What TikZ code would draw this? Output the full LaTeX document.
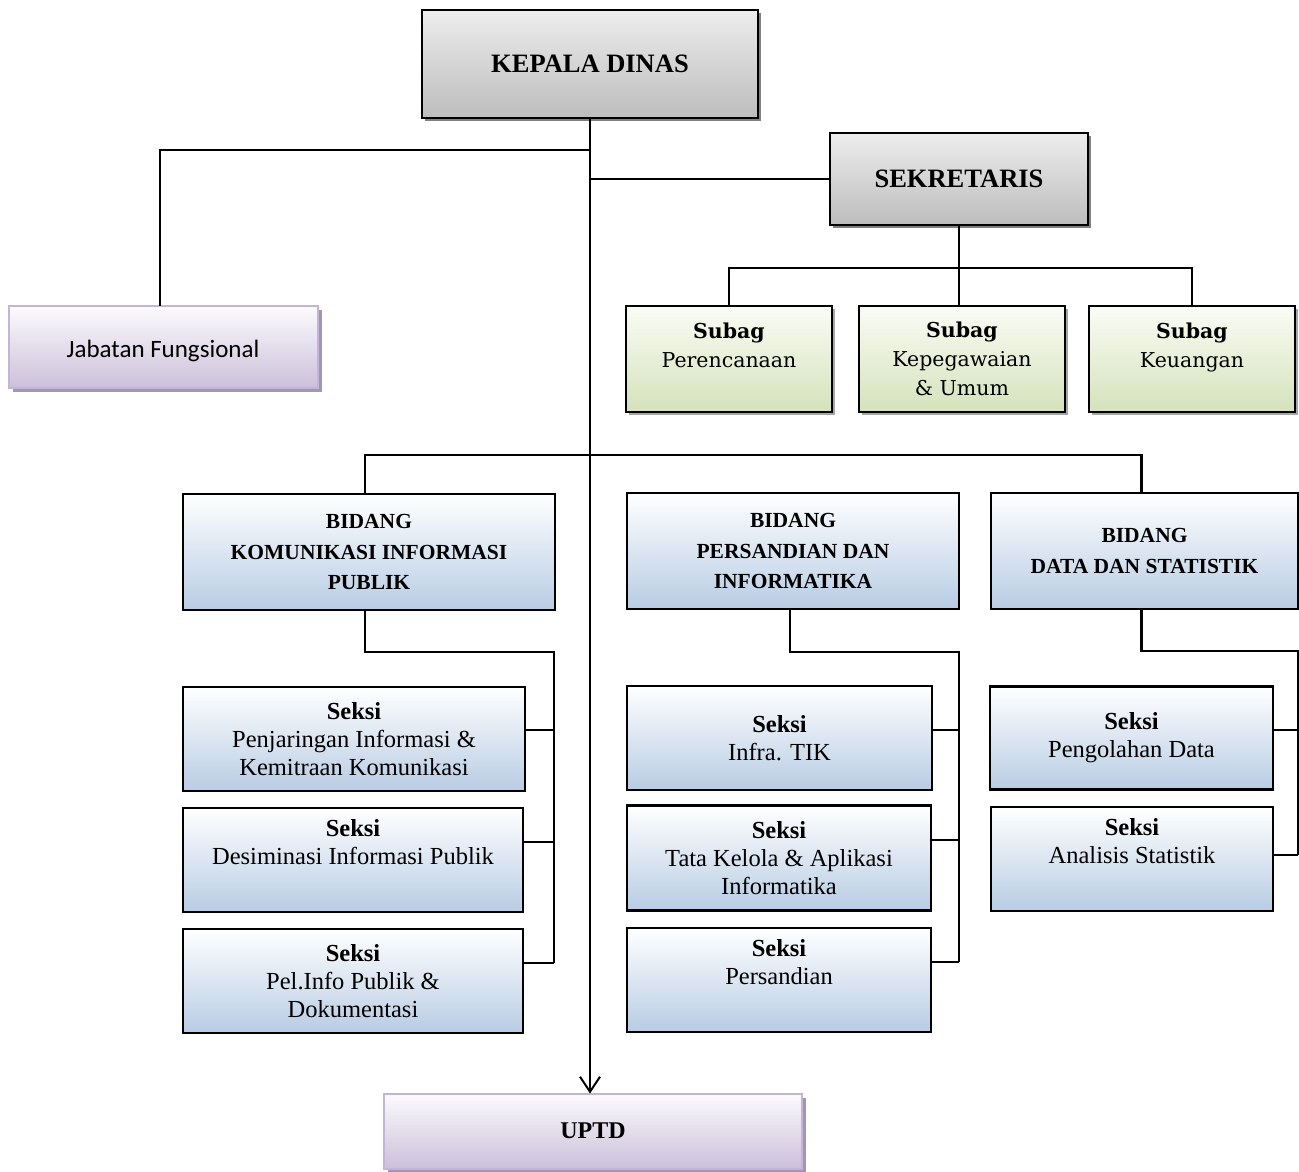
\documentclass[tikz,border=0pt]{standalone}
\usepackage{fontspec}
\setmainfont{Liberation Serif}
\newfontfamily\subagfont{DejaVu Serif}
\newfontfamily\jffont{Carlito}
\usepackage{xcolor}
\usepackage{tikz}
\usetikzlibrary{calc}
\usetikzlibrary{shadows}
\usetikzlibrary{arrows.meta}
\definecolor{graytop}{HTML}{EDEDED}
\definecolor{graybot}{HTML}{BDBDBD}
\definecolor{greentop}{HTML}{FAFCF5}
\definecolor{greenbot}{HTML}{D5E2BB}
\definecolor{bluetop}{HTML}{FFFFFF}
\definecolor{bluebot}{HTML}{B8CCE4}
\definecolor{purptop}{HTML}{FCFBFD}
\definecolor{purpbot}{HTML}{CBC0DA}
\definecolor{purpline}{HTML}{C4B5D8}
\definecolor{purpshadow}{HTML}{A395B5}
\tikzstyle{basebox} = [rectangle, align=center, inner sep=0pt, outer sep=0pt]
\tikzstyle{kepalabox} = [basebox, draw=black, line width=2.6pt,
top color=graytop, bottom color=graybot,
drop shadow={shadow xshift=3pt, shadow yshift=-3pt, fill=gray, opacity=1},
font=\fontsize{26.5}{30}\selectfont\bfseries]
\tikzstyle{subagbox} = [basebox, draw=black, line width=2.4pt,
top color=greentop, bottom color=greenbot,
drop shadow={shadow xshift=3pt, shadow yshift=-3pt, fill=gray!70, opacity=1},
minimum width=206, minimum height=106,
font=\fontsize{20.5}{29}\subagfont]
\tikzstyle{bidangbox} = [basebox, draw=black, line width=2.4pt,
top color=bluetop, bottom color=bluebot,
font=\fontsize{21.5}{30.5}\selectfont\bfseries]
\tikzstyle{seksibox} = [basebox, draw=black, line width=2.4pt,
top color=bluetop, bottom color=bluebot,
font=\fontsize{24.5}{28}\selectfont]
\tikzstyle{fungsibox} = [basebox, draw=purpline, line width=2pt,
top color=purptop, bottom color=purpbot,
drop shadow={shadow xshift=4pt, shadow yshift=-4pt, fill=purpshadow, opacity=1}]
\tikzstyle{conn} = [draw=black, line width=2.6pt]

\begin{document}
\begin{tikzpicture}[x=1pt, y=-1pt]
    \useasboundingbox (0,0) rectangle (1299,1171);
    % top level
    \node[kepalabox, minimum width=336, minimum height=108] (kepala) at (590,64) {KEPALA DINAS};
    \node[kepalabox, minimum width=258, minimum height=92] (sekre) at (959,179) {SEKRETARIS};
    \node[fungsibox, minimum width=309, minimum height=82,
        font=\fontsize{25}{28}\jffont] (fungsi) at (163,347)
        {\raisebox{-4pt}[\height][\depth]{Jabatan Fungsional}};
    % subag
    \node[subagbox] (perenc) at (729,359) {\textbf{Subag}\\Perencanaan\\[-10pt]\strut};
    \node[subagbox] (kepeg) at (962,359) {\textbf{Subag}\\Kepegawaian\\\& Umum};
    \node[subagbox] (keuang) at (1192,359) {\textbf{Subag}\\Keuangan\\[-10pt]\strut};
    % bidang
    \node[bidangbox, minimum width=372, minimum height=116] (bidkip) at (369,552)
        {BIDANG\\KOMUNIKASI INFORMASI\\PUBLIK};
    \node[bidangbox, minimum width=332, minimum height=116] (bidpers) at (793,551)
        {BIDANG\\PERSANDIAN DAN\\INFORMATIKA};
    \node[bidangbox, minimum width=307, minimum height=116] (biddata) at (1144.5,551)
        {BIDANG\\DATA DAN STATISTIK};
    % seksi
    \node[seksibox, minimum width=342, minimum height=104] (kip1) at (354,739)
        {\textbf{Seksi}\\Penjaringan Informasi \&\\Kemitraan Komunikasi};
    \node[seksibox, minimum width=340, minimum height=104] (kip2) at (353,860)
        {\textbf{Seksi}\\Desiminasi Informasi Publik\\\strut};
    \node[seksibox, minimum width=340, minimum height=104] (kip3) at (353,981)
        {\textbf{Seksi}\\Pel.Info Publik \&\\Dokumentasi};
    \node[seksibox, minimum width=305, minimum height=104] (pers1) at (779.5,738)
        {\textbf{Seksi}\\Infra. TIK};
    \node[seksibox, minimum width=304, minimum height=105] (pers2) at (779,858)
        {\textbf{Seksi}\\Tata Kelola \& Aplikasi\\Informatika};
    \node[seksibox, minimum width=304, minimum height=104] (pers3) at (779,980)
        {\textbf{Seksi}\\Persandian\\\strut};
    \node[seksibox, minimum width=283, minimum height=103] (data1) at (1131.5,738)
        {\textbf{Seksi}\\Pengolahan Data};
    \node[seksibox, minimum width=282, minimum height=104] (data2) at (1132,859)
        {\textbf{Seksi}\\Analisis Statistik\\\strut};
    % uptd
    \node[fungsibox, minimum width=418, minimum height=75,
        font=\fontsize{24}{28}\selectfont\bfseries] (uptd) at (593,1131) {UPTD};
    % connectors
    \coordinate (jfj) at (590,150);
    \coordinate (subj) at (959,268);
    \coordinate (bidj) at (590,455);
    \coordinate (kipr) at (554,652);
    \coordinate (persr) at (959,652);
    \coordinate (datar) at (1298,651);
    \draw[conn, -{Straight Barb[length=15pt, width=20pt, line width=2pt]}]
        (kepala.south) -- (kepala.south |- uptd.north);
    \draw[conn] (jfj) -| ([xshift=-3pt]fungsi.north);
    \draw[conn] (kepala.south |- sekre.west) -- (sekre.west);
    \draw[conn] (sekre.south) -- (subj);
    \draw[conn] (perenc.north) |- (subj) -| (keuang.north);
    \draw[conn] (subj) -- (subj |- kepeg.north);
    \draw[conn] ([xshift=-4pt]bidkip.north) |- (bidj) -| ([xshift=-3pt]biddata.north);
    % seksi ticks
    \draw[conn] ([xshift=-4pt]bidkip.south) |- (kipr) -- ([yshift=18pt]kipr |- kip3.east);
    \foreach \s/\d in {kip1/9,kip2/18,kip3/18}
        \draw[conn] ([yshift=\d pt]\s.east) -- ([yshift=\d pt]\s.east -| kipr);
    \draw[conn] ([xshift=-3pt]bidpers.south) |- (persr) -- ([yshift=18pt]persr |- pers3.east);
    \foreach \s/\d in {pers1/8,pers2/18,pers3/18}
        \draw[conn] ([yshift=\d pt]\s.east) -- ([yshift=\d pt]\s.east -| persr);
    \draw[conn] ([xshift=-3pt]biddata.south) |- (datar) -- ([yshift=4pt]datar |- data2.east);
    \draw[conn] ([yshift=8pt]data1.east) -- ([yshift=8pt]data1.east -| datar);
    \draw[conn] ([yshift=4pt]data2.east) -- ([yshift=4pt]data2.east -| datar);
\end{tikzpicture}
\end{document}
